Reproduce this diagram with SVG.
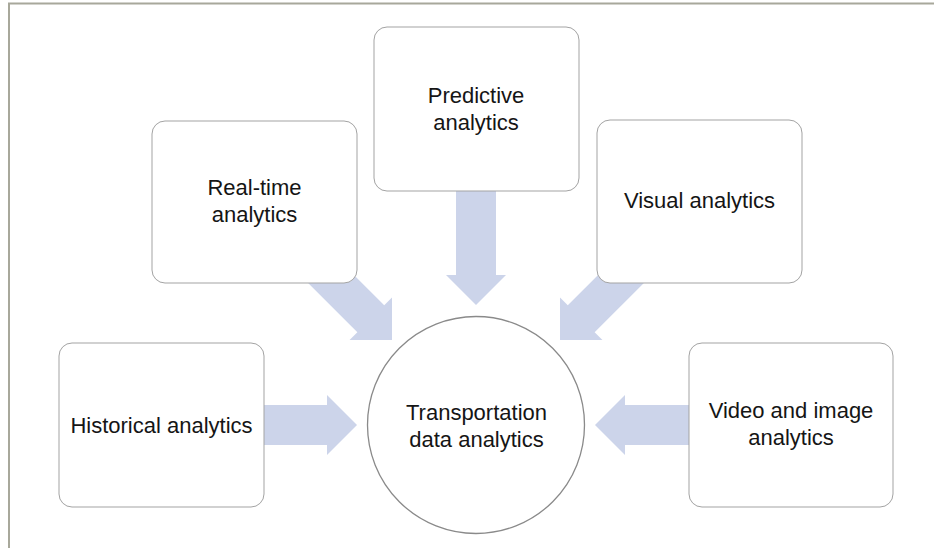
<svg xmlns="http://www.w3.org/2000/svg" width="934" height="548" viewBox="0 0 934 548">
  <style>
    .frame { stroke: #a8a89b; stroke-width: 2; fill: none; }
    .box { fill: #ffffff; stroke: #a3a3a3; stroke-width: 1; }
    .hub { fill: #ffffff; stroke: #8a8a8a; stroke-width: 1.3; }
    .arrow { fill: #ccd4ea; stroke: none; }
    .label { font-family: "Liberation Sans", Arial, sans-serif; font-size: 22px; fill: #151515; text-anchor: middle; }
  </style>

  <rect x="0" y="0" width="934" height="548" fill="#ffffff"/>

  <!-- page frame: top and left rules only -->
  <g id="frame">
    <line class="frame" x1="8" y1="3.5" x2="934" y2="3.5"/>
    <line class="frame" x1="9" y1="3" x2="9" y2="548"/>
  </g>

  <!-- block arrows pointing into the hub (drawn first so the boxes cover their tails) -->
  <g id="connectors">
    <polygon id="arrow-predictive" class="arrow" points="456,185 496,185 496,275 506,275 476,305 446,275 456,275"/>
    <polygon id="arrow-realtime" class="arrow" points="302.57,277.43 329.43,250.57 384.22,305.36 392,297.58 392,340 349.58,340 357.36,332.22"/>
    <polygon id="arrow-visual" class="arrow" points="649.43,277.43 622.57,250.57 567.78,305.36 560,297.58 560,340 602.42,340 594.64,332.22"/>
    <polygon id="arrow-historical" class="arrow" points="258,405 327,405 327,395 357,425 327,455 327,445 258,445"/>
    <polygon id="arrow-video" class="arrow" points="695,405 625,405 625,395 595,425 625,455 625,445 695,445"/>
  </g>

  <g id="node-predictive">
    <rect class="box" x="374" y="27" width="205" height="164" rx="13" ry="13"/>
    <text class="label" x="476" y="103">Predictive</text>
    <text class="label" x="476" y="130">analytics</text>
  </g>

  <g id="node-realtime">
    <rect class="box" x="152" y="121" width="205" height="162" rx="13" ry="13"/>
    <text class="label" x="254.5" y="195">Real-time</text>
    <text class="label" x="254.5" y="222">analytics</text>
  </g>

  <g id="node-visual">
    <rect class="box" x="597" y="120" width="205" height="163" rx="13" ry="13"/>
    <text class="label" x="699.5" y="208">Visual analytics</text>
  </g>

  <g id="node-historical">
    <rect class="box" x="59" y="343" width="205" height="164" rx="13" ry="13"/>
    <text class="label" x="161.5" y="433">Historical analytics</text>
  </g>

  <g id="node-video">
    <rect class="box" x="689" y="343" width="204" height="164" rx="13" ry="13"/>
    <text class="label" x="791" y="418">Video and image</text>
    <text class="label" x="791" y="445">analytics</text>
  </g>

  <g id="node-hub">
    <circle class="hub" cx="476" cy="425" r="108.5"/>
    <text class="label" x="476.5" y="420">Transportation</text>
    <text class="label" x="476.5" y="447">data analytics</text>
  </g>
</svg>
